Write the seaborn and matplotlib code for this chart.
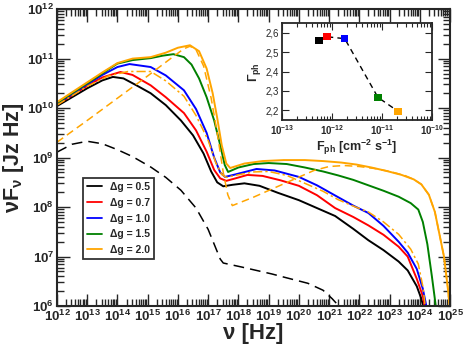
import numpy as np
import pandas as pd
import matplotlib
matplotlib.use("Agg")
import matplotlib.pyplot as plt
import matplotlib.ticker as ticker
from matplotlib.lines import Line2D
import seaborn as sns

# SEDs as log10(nu), log10(nuFnu)
lx_05 = [12.0, 12.5, 13.0, 13.5, 13.85, 14.2, 14.6, 15.1, 15.6, 16.1, 16.5, 16.85, 17.1, 17.3, 17.5, 17.8,
         18.2, 18.7, 19.3, 20.0, 20.6, 21.2, 21.8, 22.3, 22.8, 23.3, 23.6, 23.9, 24.05, 24.15]
ly_05 = [10.04, 10.22, 10.40, 10.56, 10.63, 10.60, 10.47, 10.30, 10.06, 9.75, 9.45, 9.08, 8.72, 8.50, 8.42, 8.45,
         8.48, 8.43, 8.29, 8.14, 7.98, 7.82, 7.56, 7.33, 7.13, 6.90, 6.72, 6.40, 6.15, 5.90]

lx_07 = [12.0, 12.5, 13.0, 13.5, 14.1, 14.5, 15.1, 15.6, 16.2, 16.6, 16.95, 17.2, 17.4, 17.6, 17.9, 18.3,
         18.8, 19.4, 20.0, 20.6, 21.2, 21.8, 22.3, 22.8, 23.3, 23.6, 23.9, 24.1, 24.2]
ly_07 = [10.07, 10.26, 10.45, 10.62, 10.73, 10.67, 10.46, 10.22, 9.90, 9.55, 9.12, 8.75, 8.58, 8.53, 8.58, 8.65,
         8.63, 8.54, 8.43, 8.24, 7.98, 7.80, 7.63, 7.44, 7.20, 7.00, 6.55, 6.20, 5.90]

lx_10 = [12.0, 12.5, 13.0, 13.5, 14.0, 14.4, 15.1, 15.6, 16.2, 16.6, 16.95, 17.2, 17.4, 17.56, 17.9, 18.6,
         19.2, 20.0, 20.6, 21.3, 21.8, 22.3, 22.8, 23.3, 23.6, 23.9, 24.1, 24.25]
ly_10 = [10.09, 10.28, 10.48, 10.67, 10.83, 10.89, 10.83, 10.66, 10.36, 9.98, 9.50, 9.00, 8.70, 8.61, 8.66, 8.77,
         8.74, 8.61, 8.44, 8.20, 8.03, 7.88, 7.62, 7.30, 7.08, 6.75, 6.35, 5.90]

lx_15 = [12.0, 12.5, 13.0, 13.5, 14.0, 14.5, 15.1, 15.5, 15.85, 16.2, 16.45, 16.7, 16.95, 17.2, 17.4, 17.55,
         17.66, 18.0, 18.5, 19.0, 19.6, 20.2, 20.8, 21.3, 21.8, 22.3, 22.8, 23.3, 23.7, 23.95, 24.1, 24.25,
         24.4, 24.55]
ly_15 = [10.10, 10.30, 10.50, 10.70, 10.90, 10.97, 11.01, 11.06, 11.09, 11.03, 10.88, 10.60, 10.22, 9.75, 9.25,
         8.85, 8.71, 8.80, 8.87, 8.89, 8.87, 8.80, 8.72, 8.64, 8.55, 8.44, 8.33, 8.21, 8.08, 7.95, 7.70, 7.25,
         6.60, 5.90]

lx_20 = [12.0, 12.5, 13.0, 13.5, 14.0, 14.5, 15.1, 15.6, 16.0, 16.4, 16.7, 16.95, 17.15, 17.3, 17.45, 17.6,
         17.73, 18.2, 18.8, 19.5, 20.2, 20.8, 21.4, 21.9, 22.4, 22.9, 23.4, 23.8, 24.05, 24.3, 24.5, 24.65,
         24.8, 24.92, 25.0]
ly_20 = [10.12, 10.32, 10.52, 10.72, 10.91, 11.00, 11.03, 11.12, 11.22, 11.27, 11.15, 10.80, 10.30, 9.80, 9.25,
         8.88, 8.79, 8.88, 8.93, 8.95, 8.95, 8.93, 8.90, 8.86, 8.80, 8.73, 8.65, 8.56, 8.46, 8.25, 7.90, 7.45,
         7.00, 6.40, 5.90]

# components / variants of the dg = 2.0 case
lx_20_dash = [12.0, 13.0, 14.0, 15.0, 15.8, 16.2, 16.4, 16.6, 16.85, 17.1, 17.3, 17.5, 17.65, 17.8, 18.5, 19.5,
              20.5, 21.0, 21.5, 22.0, 22.5, 23.0, 23.5, 23.8, 24.05, 24.3, 24.5, 24.65, 24.8, 24.92, 25.0]
ly_20_dash = [9.31, 9.75, 10.20, 10.65, 11.02, 11.20, 11.25, 11.18, 10.85, 10.20, 9.50, 8.70, 8.25, 8.03, 8.20,
              8.47, 8.74, 8.82, 8.84, 8.82, 8.78, 8.72, 8.64, 8.56, 8.46, 8.25, 7.90, 7.45, 7.00, 6.40, 5.90]

lx_20_dd = [12.0, 13.0, 13.7, 14.35, 15.1, 15.6, 16.2, 16.6, 17.0, 17.25, 17.45, 17.6, 17.9, 18.5, 19.0, 19.6,
            20.2, 20.8, 21.3, 21.8, 22.3, 22.8, 23.3, 23.7, 23.95, 24.1, 24.2]
ly_20_dd = [10.06, 10.44, 10.65, 10.74, 10.74, 10.55, 10.24, 9.85, 9.35, 8.90, 8.66, 8.60, 8.64, 8.71, 8.72, 8.64,
            8.48, 8.32, 8.15, 8.02, 7.90, 7.70, 7.45, 7.15, 6.85, 6.40, 5.90]

lx_bk = [12.0, 12.5, 13.0, 13.5, 14.0, 14.5, 15.1, 15.6, 16.1, 16.6, 17.0, 17.2, 17.4, 17.5, 17.8, 18.1, 18.6,
         19.1, 19.6, 20.3, 20.8, 21.1, 21.4]
ly_bk = [9.11, 9.27, 9.33, 9.28, 9.16, 9.02, 8.81, 8.60, 8.34, 7.98, 7.55, 7.25, 6.95, 6.87, 6.83, 6.79, 6.72,
         6.65, 6.57, 6.46, 6.32, 6.15, 5.95]

# inset: photon flux vs photon index
f_ph = [5.5e-13, 7.9e-13, 1.8e-12, 8.3e-12, 2.1e-11]
gamma_ph = [2.559, 2.580, 2.570, 2.267, 2.195]

dg_labels = ["Δg = 0.5", "Δg = 0.7", "Δg = 1.0", "Δg = 1.5", "Δg = 2.0"]
colors = ["black", "red", "blue", "green", "orange"]

sns.set_style("ticks")
plt.rcParams['font.family'] = ['Liberation Sans', 'DejaVu Sans']
plt.rcParams['font.weight'] = 'bold'
plt.rcParams['mathtext.fontset'] = 'custom'
plt.rcParams['mathtext.rm'] = 'Liberation Sans:bold'
plt.rcParams['mathtext.bf'] = 'Liberation Sans:bold'
plt.rcParams['mathtext.it'] = 'Liberation Sans:bold'
plt.rcParams['mathtext.sf'] = 'Liberation Sans'

fig = plt.figure(figsize=(4.63, 3.51), dpi=100)
ax = fig.add_axes([0.123, 0.128, 0.849, 0.846])

curves = [(lx_05, ly_05), (lx_07, ly_07), (lx_10, ly_10), (lx_15, ly_15), (lx_20, ly_20)]
for (lx, ly), c in zip(curves, colors):
    sns.lineplot(x=np.power(10.0, lx), y=np.power(10.0, ly), ax=ax, color=c, lw=1.4, sort=False)

sns.lineplot(x=np.power(10.0, lx_20_dash), y=np.power(10.0, ly_20_dash), ax=ax, color="orange",
             lw=1.1, sort=False, linestyle=(0, (5, 3)))
sns.lineplot(x=np.power(10.0, lx_20_dd), y=np.power(10.0, ly_20_dd), ax=ax, color="orange",
             lw=1.1, sort=False, linestyle=(0, (6, 2, 1.5, 2)))
sns.lineplot(x=np.power(10.0, lx_bk), y=np.power(10.0, ly_bk), ax=ax, color="black",
             lw=1.1, sort=False, linestyle=(0, (7, 4)))

ax.set_xscale("log")
ax.set_yscale("log")
ax.set_xlim(1e12, 1e25)
ax.set_ylim(1e6, 1e12)

fmt = ticker.FuncFormatter(lambda v, _: r'$\mathbf{10^{%d}}$' % round(np.log10(v)))
ax.xaxis.set_major_locator(ticker.LogLocator(base=10, numticks=20))
ax.xaxis.set_minor_locator(ticker.LogLocator(base=10, subs=np.arange(2, 10), numticks=20))
ax.xaxis.set_minor_formatter(ticker.NullFormatter())
ax.xaxis.set_major_formatter(fmt)
ax.yaxis.set_major_formatter(fmt)
ax.tick_params(which="both", direction="in", top=True, right=True, width=1.0, labelsize=9.5, pad=2)
ax.tick_params(which="major", length=9)
ax.tick_params(which="minor", length=5)
for s in ax.spines.values():
    s.set_linewidth(1.5)

ax.set_xlabel("ν [Hz]", fontsize=16, fontweight="bold", labelpad=-1)
ax.set_ylabel(r"νF$_{\mathbf{ν}}$ [Jz Hz]", fontsize=15.5, fontweight="bold")
ax.yaxis.set_label_coords(-0.078, 0.5)

handles = [Line2D([], [], color=c, lw=1.3) for c in colors]
leg = ax.legend(handles, dg_labels, loc="lower left", bbox_to_anchor=(0.066, 0.158), frameon=True,
                fancybox=False, edgecolor="black", fontsize=7.5, handlelength=1.4, handletextpad=0.8,
                labelspacing=0.55, borderpad=0.4, borderaxespad=0)
leg.get_frame().set_linewidth(1.3)

# inset
axi = fig.add_axes([0.609, 0.658, 0.324, 0.276])
inset_df = pd.DataFrame({"F_ph": f_ph, "Gamma_ph": gamma_ph, "dg": dg_labels})
sns.lineplot(data=inset_df, x="F_ph", y="Gamma_ph", ax=axi, color="black", lw=1.0,
             linestyle=(0, (4, 3)), sort=False)
sns.scatterplot(data=inset_df, x="F_ph", y="Gamma_ph", hue="dg", palette=colors, ax=axi,
                marker="s", s=28, edgecolor="none", legend=False, zorder=3)
axi.set_xscale("log")
axi.set_xlim(1e-13, 1e-10)
axi.set_ylim(2.15, 2.65)
axi.xaxis.set_major_locator(ticker.LogLocator(base=10, numticks=10))
axi.xaxis.set_minor_locator(ticker.LogLocator(base=10, subs=np.arange(2, 10), numticks=10))
axi.xaxis.set_minor_formatter(ticker.NullFormatter())
axi.xaxis.set_major_formatter(ticker.FuncFormatter(lambda v, _: r'$\mathsf{10^{%d}}$' % round(np.log10(v))))
axi.yaxis.set_major_locator(ticker.FixedLocator([2.2, 2.3, 2.4, 2.5, 2.6]))
axi.yaxis.set_major_formatter(ticker.FuncFormatter(lambda v, _: f"{v:.1f}".replace(".", ",")))
axi.tick_params(which="both", direction="in", top=True, right=True, labelsize=7, pad=2, width=0.8)
axi.tick_params(which="major", length=5)
axi.tick_params(which="minor", length=3)
for lab in axi.get_yticklabels():
    lab.set_fontweight("normal")
for s in axi.spines.values():
    s.set_linewidth(1.3)
axi.set_xlabel(r"F$_{\mathrm{ph}}$ [cm$^{\mathrm{-2}}$ s$^{\mathrm{-1}}$]", fontsize=9, fontweight="bold", labelpad=1)
axi.set_ylabel(r"$\mathsf{\Gamma_{ph}}$", fontsize=9, labelpad=2)

fig.savefig("out.png", dpi=100)
